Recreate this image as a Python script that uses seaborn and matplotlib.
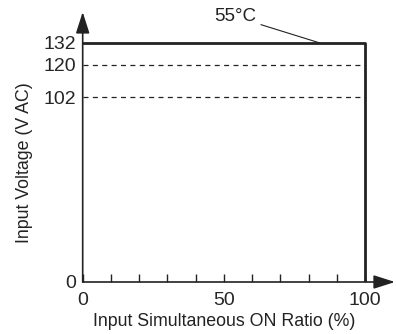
import matplotlib
matplotlib.use("Agg")
import matplotlib.pyplot as plt
import seaborn as sns

# data
limit_x = [0, 100, 100]
limit_y = [132, 132, 0]
dash_x = [0, 100]
dash_levels = [120, 102]
ytick_vals = [0, 102, 120, 132]
xtick_vals = list(range(0, 101, 10))
xtick_labels = ["0", "", "", "", "", "50", "", "", "", "", "100"]
note_text = "55°C"
note_xy = (84, 132)
note_text_xy = (61.5, 146.5)

sns.set_style("white")
plt.rcParams["font.family"] = ["Liberation Sans", "DejaVu Sans"]

fig = plt.figure(figsize=(3.96, 3.34), dpi=100)
ax = fig.add_axes([0.2088, 0.1557, 0.7886, 0.8084])

sns.lineplot(x=limit_x, y=limit_y, sort=False, estimator=None, color="#222222",
             linewidth=2.0, ax=ax)
for lvl in dash_levels:
    sns.lineplot(x=dash_x, y=[lvl, lvl], sort=False, estimator=None, color="#222222",
                 linewidth=0.9, linestyle=(0, (4, 3.5)), ax=ax)

ax.set_xlim(0, 110.6)
ax.set_ylim(0, 149.1)

for s in ax.spines.values():
    s.set_visible(False)

# axes with arrow heads
arr = dict(arrowstyle="-|>,head_length=1.0,head_width=0.32", color="#222222",
           linewidth=1.2, mutation_scale=13, shrinkA=0, shrinkB=0)
ax.annotate("", xy=(0, 1), xytext=(0, 0), xycoords="axes fraction", arrowprops=arr)
ax.annotate("", xy=(1, 0), xytext=(0, 0), xycoords="axes fraction", arrowprops=arr)

ax.set_xticks(xtick_vals)
ax.set_xticklabels(xtick_labels)
ax.set_yticks(ytick_vals)
ax.set_yticklabels([str(v) for v in ytick_vals])
ax.tick_params(axis="x", direction="in", length=6, width=1.0, color="#222222",
               pad=7, labelsize=14, bottom=True)
ax.tick_params(axis="y", length=0, pad=5, labelsize=14, left=True)

ax.set_xlabel("Input Simultaneous ON Ratio (%)", fontsize=12.8, color="#222222")
ax.set_ylabel("Input Voltage (V AC)", fontsize=12.8, color="#222222")
ax.xaxis.set_label_coords(100 / 2 / 110.6, -0.115)
ax.yaxis.set_label_coords(-0.16, 66 / 149.1)

ax.annotate(note_text, xy=note_xy, xytext=note_text_xy, fontsize=13.5,
            ha="right", va="center", color="#222222",
            arrowprops=dict(arrowstyle="-", color="#222222", linewidth=0.8,
                            shrinkA=1, shrinkB=0))

fig.savefig("out.png", dpi=100)
